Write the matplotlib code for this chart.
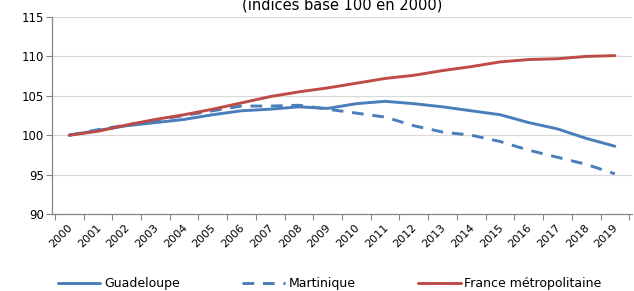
import matplotlib
matplotlib.use("Agg")
import matplotlib.pyplot as plt
import matplotlib.transforms as mtransforms

years = [str(y) for y in range(2000, 2020)]
guadeloupe = [100.0, 100.6, 101.2, 101.6, 102.0, 102.6, 103.1, 103.3, 103.6, 103.4,
              104.0, 104.3, 104.0, 103.6, 103.1, 102.6, 101.6, 100.8, 99.6, 98.6]
martinique = [100.0, 100.7, 101.3, 101.9, 102.5, 103.1, 103.7, 103.7, 103.8, 103.3,
              102.8, 102.3, 101.2, 100.4, 100.0, 99.2, 98.1, 97.2, 96.3, 95.1]
france = [100.0, 100.5, 101.3, 102.0, 102.6, 103.3, 104.1, 104.9, 105.5, 106.0,
          106.6, 107.2, 107.6, 108.2, 108.7, 109.3, 109.6, 109.7, 110.0, 110.1]
yticks = [90, 95, 100, 105, 110, 115]

blue = "#4A7EBB"
red = "#BE4B48"
plt.rcParams['font.family'] = ['DejaVu Sans']

fig = plt.figure(figsize=(6.34, 2.91), dpi=100)
ax = fig.add_axes([0.082, 0.2646, 0.915, 0.677])
x = list(range(len(years)))
ax.plot(x, guadeloupe, color=blue, lw=2.1, label="Guadeloupe", solid_capstyle='round')
ax.plot(x, martinique, color=blue, lw=2.1, ls=(0, (4, 3)), label="Martinique")
ax.plot(x, france, color=red, lw=2.1, label="France métropolitaine", solid_capstyle='round')

ax.set_xlim(-0.6, 19.6)
ax.set_ylim(90, 115)
ax.set_yticks(yticks)
ax.set_yticklabels([str(v) for v in yticks], fontsize=8.5)
ax.yaxis.grid(True, color="#D9D9D9", lw=0.9)
ax.set_axisbelow(True)
ax.set_xticks([k - 0.5 for k in range(len(years) + 1)], minor=False)
ax.set_xticklabels([])
ax.set_xticks(x, minor=True)
ax.set_xticklabels(years, minor=True, rotation=45, ha='right', rotation_mode='anchor', fontsize=8)
ax.tick_params(axis='x', which='major', length=4, color="#868686", direction='out')
ax.tick_params(axis='x', which='minor', length=0, pad=6)
ax.tick_params(axis='y', length=4, color="#868686", direction='out', pad=2)
for lab in ax.get_xticklabels(minor=True):
    lab.set_transform(lab.get_transform() + mtransforms.ScaledTranslation(-2/100, 0, fig.dpi_scale_trans))
for s in ['top', 'right']:
    ax.spines[s].set_visible(False)
for s in ['left', 'bottom']:
    ax.spines[s].set_color("#868686")
    ax.spines[s].set_linewidth(0.9)

fig.text(0.54, 0.968, "(indices base 100 en 2000)", ha='center', va='baseline', fontsize=10.5)

leg = fig.legend(loc='lower center', bbox_to_anchor=(0.52, -0.035), ncol=3, frameon=False,
                 fontsize=9, handlelength=3.4, columnspacing=5.0, handletextpad=0.3)

fig.savefig("out.png", dpi=100)
